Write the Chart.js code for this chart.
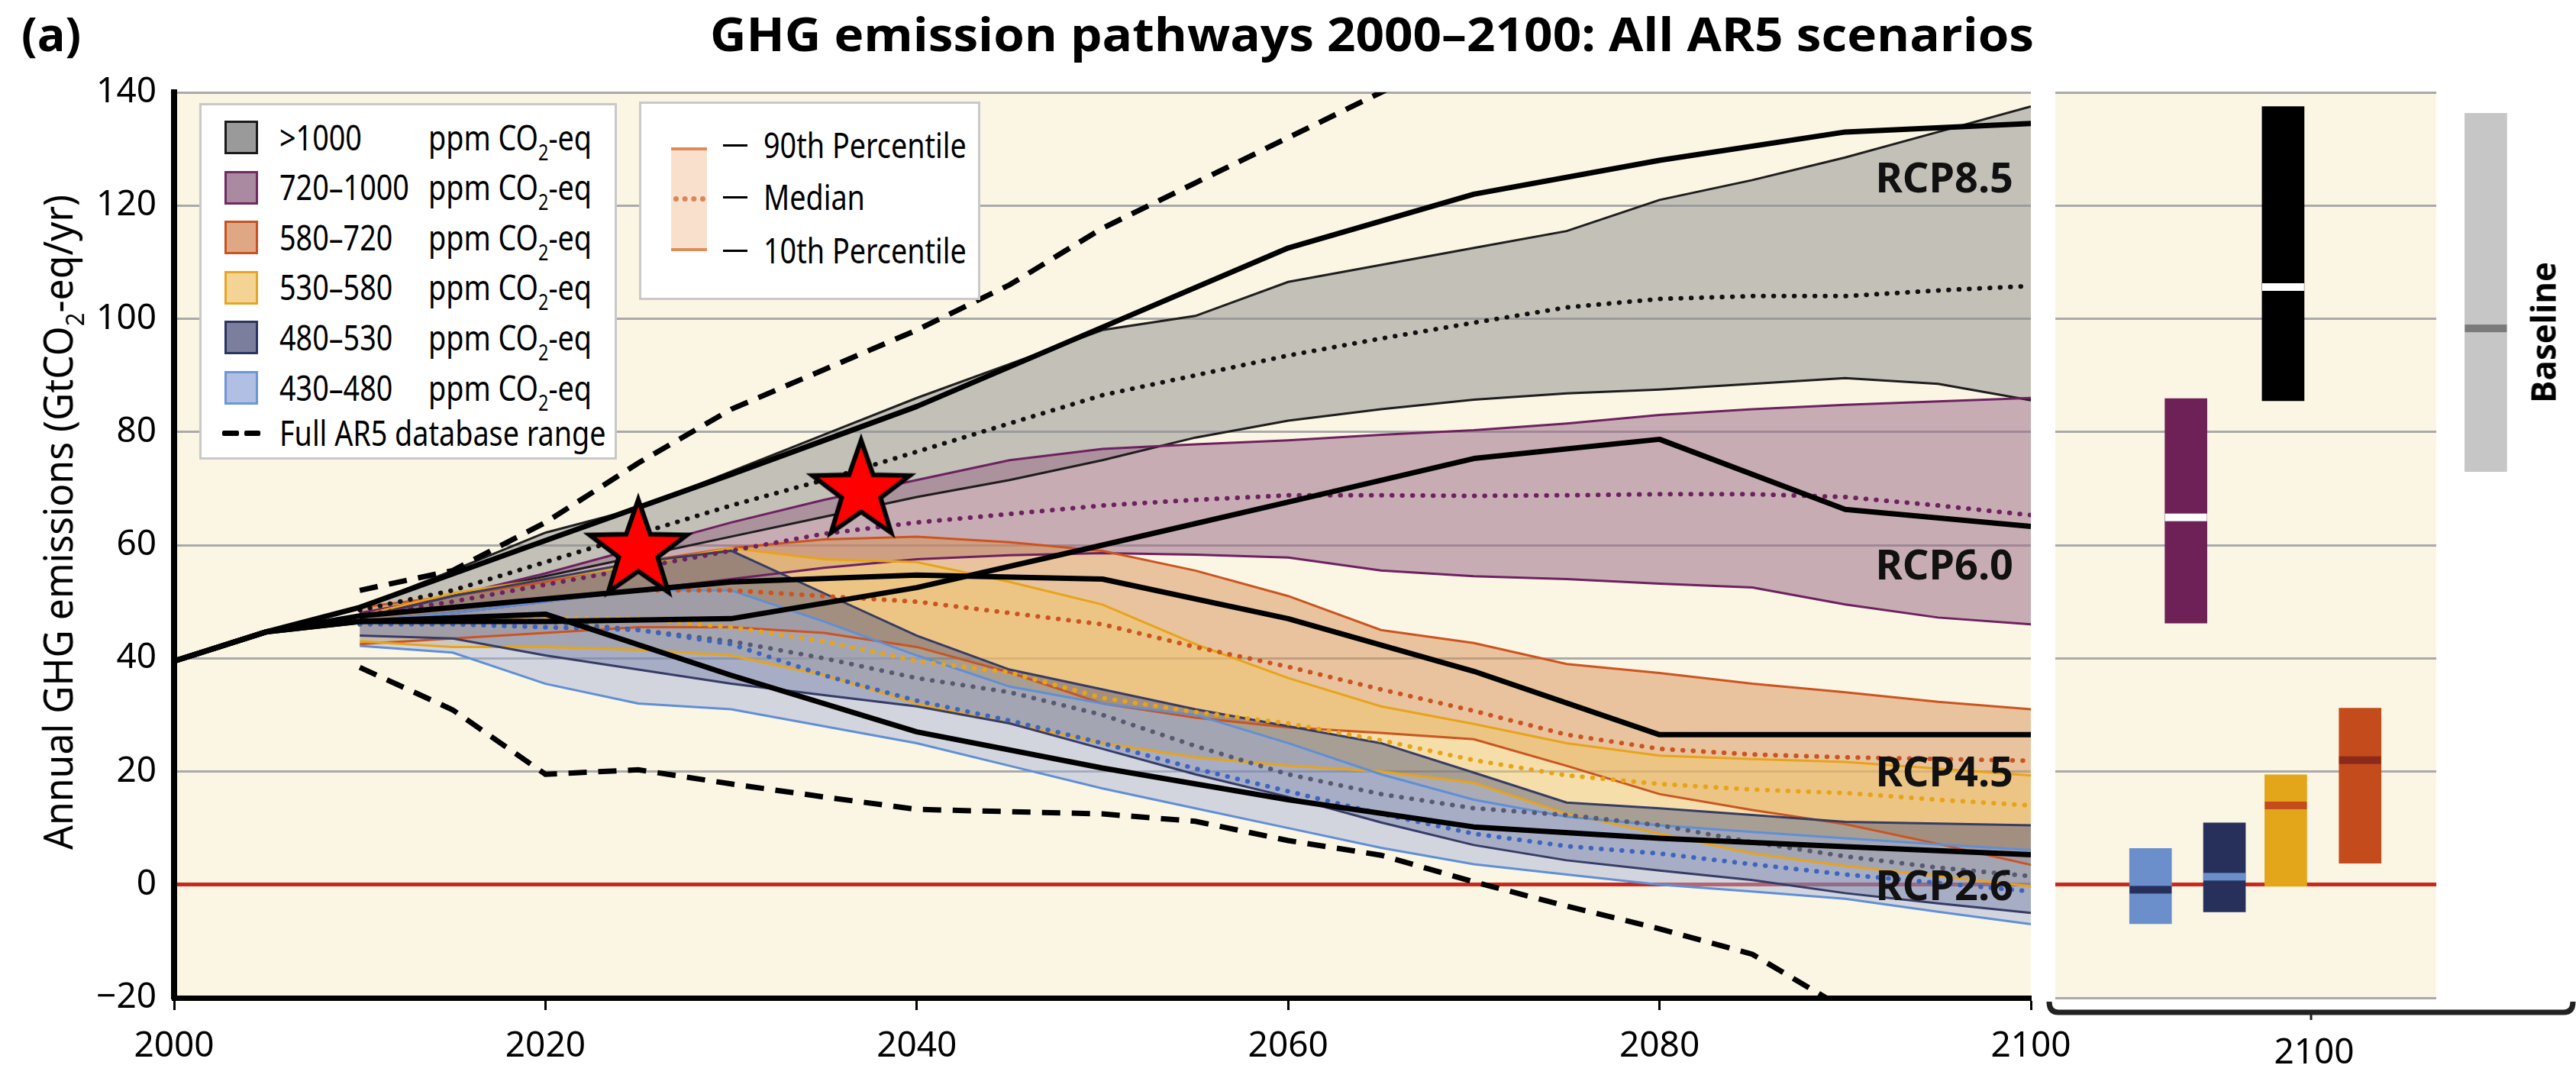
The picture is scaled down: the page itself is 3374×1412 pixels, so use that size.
<!DOCTYPE html>
<html lang="en">
<head>
<meta charset="utf-8">
<title>GHG emission pathways 2000–2100</title>
<script src="https://cdn.jsdelivr.net/npm/chart.js@4.4.1/dist/chart.umd.min.js"></script>
<style>
  html, body { margin: 0; padding: 0; background: #fff; }
  #fig { position: relative; width: 3374px; height: 1412px; overflow: hidden; font-family: "Noto Sans", "Open Sans", sans-serif; color: #000; }
  #fig canvas { position: absolute; top: 0; }
  .t { position: absolute; white-space: nowrap; line-height: 1; }
  .cond { transform-origin: 0 50%; transform: scaleX(0.82); }
  .box { position: absolute; box-sizing: border-box; background: #fff; border: 3px solid #c9c9c9; }
  .sw { position: absolute; box-sizing: border-box; width: 44px; height: 44px; border: 3px solid; }
  sub { font-size: 0.62em; vertical-align: -0.45em; line-height: 0; }
</style>
</head>
<body>
<div id="fig">
  <canvas id="main" width="2760" height="1412" style="left:0"></canvas>
  <canvas id="side" width="694" height="1412" style="left:2680px"></canvas>
  <div class="t" id="tag" style="left:28px;top:13px;font-size:61px;font-weight:700;font-family:'Open Sans';">(a)</div>
  <div class="t" id="title" style="left:930px;top:13px;font-size:61px;font-weight:700;font-family:'Open Sans';transform-origin:0 50%;">GHG emission pathways 2000–2100: All AR5 scenarios</div>
  <div class="t" id="ylab" style="font-size:52px;">Annual GHG emissions (GtCO<sub>2</sub>-eq/yr)</div>
  <div class="t" id="base" style="font-size:45px;font-weight:700;font-family:'Open Sans';">Baseline</div>
  <div id="legend"></div>
</div>
<script>
// ---- data ----
const years = [2010, 2015, 2020, 2025, 2030, 2035, 2040, 2045, 2050, 2055, 2060, 2065, 2070, 2075, 2080, 2085, 2090, 2095, 2100];

// >1000 ppm
const grHi  = [49, 55.5, 62.2, 66.5, 73, 79.5, 86, 92, 98, 100.5, 106.5, 109.5, 112.5, 115.5, 121, 124.5, 128.5, 133, 137.5];
const grLo  = [47.5, 51, 54.5, 58, 61.5, 65, 68.5, 71.5, 75, 79, 82, 84, 85.7, 86.8, 87.5, 88.5, 89.5, 88.5, 85.6];
const grMed = [48.5, 52, 57, 62, 67, 71.5, 76.5, 81.5, 86.5, 90, 93.5, 96.5, 99.3, 102, 103.5, 104, 104, 105, 105.8];
// 720-1000 ppm
const puHi  = [48, 51, 55, 59.5, 64, 68, 71.5, 75, 77, 77.8, 78.5, 79.5, 80.3, 81.5, 83, 84, 84.8, 85.4, 86];
const puLo  = [46.5, 48, 50, 52, 54, 56, 57.5, 58.2, 58.6, 58.3, 57.8, 55.5, 54.5, 54, 53.2, 52.5, 49.5, 47.2, 46];
const puMed = [47.5, 50, 53, 56, 59, 62, 64, 65.5, 67, 68, 68.8, 68.8, 68.7, 68.8, 69, 69, 68.5, 67, 65.3];
// 580-720 ppm
const orHi  = [49, 51, 53.5, 57, 59.5, 61, 61.5, 60.5, 59, 55.5, 51, 45, 42.7, 39, 37.4, 35.5, 34, 32.3, 31];
const orLo  = [42.5, 43.5, 44.5, 45.5, 45.5, 44.5, 42, 37.5, 32, 29.5, 27.8, 26.8, 25.7, 21, 16, 13.2, 10.7, 7.2, 3.5];
const orMed = [47.5, 49, 50.5, 52, 52, 51, 50, 48, 46, 42, 38.5, 34.5, 30.7, 26.5, 24, 23, 22.5, 22.2, 21.9];
// 530-580 ppm
const yeHi  = [47.5, 51.5, 54, 56.5, 59.5, 57.5, 57, 53.5, 49.5, 42.5, 36.5, 31.5, 28.4, 25, 22.8, 22.2, 21.7, 20.5, 19.3];
const yeLo  = [43, 42, 42, 41.5, 40.5, 37, 32, 28.5, 25, 22.5, 21, 20, 18, 12.5, 9, 5.5, 3.3, 1.5, -0.3];
const yeMed = [46, 46.5, 47, 47, 45.5, 43, 39.5, 37.5, 33, 30.5, 28.5, 25.5, 22, 19.3, 17.8, 16.8, 16.2, 15, 14];
// 480-530 ppm
const naHi  = [47, 51, 54, 57, 59, 51.5, 44, 38, 34.5, 31, 28, 25, 19.8, 14.5, 13.5, 12.3, 11.1, 10.8, 10.5];
const naLo  = [44, 43.5, 40.5, 38, 35.5, 33.5, 31.5, 28.5, 24, 19.5, 15.5, 11, 7, 4.3, 2.5, 0.8, -1.5, -3.3, -5];
const naMed = [46.5, 46.5, 46.5, 45, 43, 40, 36.5, 34, 30, 24.5, 19.5, 16, 13.5, 12.3, 10.5, 7.5, 5, 3, 1.5];
// 430-480 ppm
const lbHi  = [46.5, 48, 50, 52, 52, 46.5, 40.5, 35, 32, 30, 25, 19.5, 15, 12, 10.5, 9.3, 8.2, 7.1, 6.1];
const lbLo  = [42.2, 41, 35.5, 32, 31, 28, 25, 21, 17, 13.5, 10, 6.5, 3.6, 1.8, 0, -1.2, -2.5, -4.8, -7];
const lbMed = [46, 46, 45.5, 45, 42.5, 37, 32.5, 29, 25, 20.5, 16.5, 12.5, 9, 6.8, 5.5, 3.6, 1.8, 0.3, -1.2];

// full AR5 database range
const dbHi = [52, 55.5, 64, 74.5, 84, 91, 98, 106, 116, 124, 132, 140, 148, null, null, null, null, null, null];
const dbLo = [38.4, 30.9, 19.5, 20.3, 17.8, 15.5, 13.3, 12.9, 12.5, 11.2, 7.8, 5.2, 0.5, -3.8, -7.8, -12.3, -22, null, null];

// RCP pathways (incl. history 2000-2010)
const rcpYears = [2000, 2005, 2010, 2020, 2030, 2040, 2050, 2060, 2070, 2080, 2090, 2100];
const rcp85 = [39.5, 44.7, 49, 60.8, 72.5, 84.5, 98.5, 112.5, 122, 128, 133, 134.5];
const rcp60 = [39.5, 44.7, 46.5, 46.5, 47, 52.5, 60, 67.6, 75.3, 78.7, 66.3, 63.3];
const rcp45 = [39.5, 44.7, 47.5, 50.5, 53.5, 54.7, 54, 47, 37.7, 26.5, 26.5, 26.5];
const rcp26 = [39.5, 44.7, 46.5, 47.8, 37, 27, 20.6, 15, 10.2, 8.2, 6.7, 5.3];
const rcpNames = ['RCP8.5', 'RCP6.0', 'RCP4.5', 'RCP2.6'];
const rcpLabelAt = [124.4, 56, 19.4, -0.7];

const starYears = [2025, 2037];
const starValues = [59, 69.5];

// 2100 ranges (right panel)
const categories = ['>1000', '720–1000', '580–720', '530–580', '480–530', '430–480'];
const rangeNames = ['430–480', '480–530', '530–580', '580–720', '720–1000', '>1000', 'Baseline'];
const rangeLow  = [-6.9, -4.8, -0.3, 3.8, 46.2, 85.5, 73];
const rangeHigh = [6.4, 10.9, 19.4, 31.2, 85.9, 137.5, 136.3];
const rangeMid  = [-0.9, 1.4, 14, 22, 64.9, 105.6, 98.3];

// ---- styles / layout ----
const FONT = '"Noto Sans", "Open Sans", sans-serif';
const BEIGE = '#fbf5e4';
const slotX = [2.5, 4.44, 6.05, 8.0, 3.43, 5.98, 11.3];
const rangeColors = ['#6a8fca', '#27305a', '#e3a61a', '#c44b1c', '#6e2156', '#000000', '#c6c6c6'];
const midColors   = ['#27305a', '#6a8fca', '#c44b1c', '#8b2a1a', '#ffffff', '#ffffff', '#7a7a7a'];
const swatchFill   = ['#9a9a9a', '#a98aa0', '#e0a785', '#f3d494', '#7b7e9c', '#b1bfe4'];
const swatchBorder = ['#1a1a1a', '#6e2a62', '#c65321', '#e5a628', '#2c3560', '#6c97d4'];

const bands = [
  { hi: lbHi, lo: lbLo, med: lbMed, line: '#5f8fd6', fill: 'rgba(160,175,215,0.45)', dot: '#3d65c0' },
  { hi: naHi, lo: naLo, med: naMed, line: '#363c66', fill: 'rgba(60,70,120,0.42)', dot: '#585a72' },
  { hi: yeHi, lo: yeLo, med: yeMed, line: '#e8a418', fill: 'rgba(240,200,110,0.5)', dot: '#e8a418' },
  { hi: orHi, lo: orLo, med: orMed, line: '#cc5420', fill: 'rgba(214,145,85,0.5)', dot: '#cc5420' },
  { hi: puHi, lo: puLo, med: puMed, line: '#6e2160', fill: 'rgba(150,100,130,0.5)', dot: '#6e2160' },
  { hi: grHi, lo: grLo, med: grMed, line: '#1e1e1e', fill: 'rgba(140,140,140,0.5)', dot: '#111111' }
];

function series(xs, ys) { return xs.map((x, i) => ({ x: x, y: ys[i] })); }

function makeStar(r) {
  const c = document.createElement('canvas');
  const s = Math.ceil(2 * r + 30);
  c.width = s; c.height = s;
  const g = c.getContext('2d');
  g.translate(s / 2, s / 2);
  g.beginPath();
  for (let i = 0; i < 10; i++) {
    const rad = i % 2 ? r * 0.4 : r;
    const a = -Math.PI / 2 + i * Math.PI / 5;
    g.lineTo(Math.cos(a) * rad, Math.sin(a) * rad);
  }
  g.closePath();
  g.fillStyle = '#ff0000';
  g.fill();
  g.lineWidth = 6;
  g.strokeStyle = '#000';
  g.stroke();
  return c;
}

// ---- datasets ----
const datasets = [];
bands.forEach(b => {
  datasets.push({ data: series(years, b.hi), borderColor: b.line, borderWidth: 3, backgroundColor: b.fill, fill: '+1', order: 5 });
  datasets.push({ data: series(years, b.lo), borderColor: b.line, borderWidth: 3, fill: false, order: 5 });
});
bands.forEach(b => {
  datasets.push({ data: series(years, b.med), borderColor: b.dot, borderWidth: 6, borderDash: [0.5, 13], borderCapStyle: 'round', fill: false, order: 4 });
});
[dbHi, dbLo].forEach(d => {
  datasets.push({ data: series(years, d), borderColor: '#000', borderWidth: 7, borderDash: [24, 15], fill: false, order: 3 });
});
[rcp85, rcp60, rcp45, rcp26].forEach(r => {
  datasets.push({ data: series(rcpYears, r), borderColor: '#000', borderWidth: 7, fill: false, order: 2, borderJoinStyle: 'round' });
});
datasets.push({ type: 'scatter', data: series(starYears, starValues), pointStyle: makeStar(67), pointRadius: 10, order: 0 });

const bgPlugin = {
  id: 'bg',
  beforeDraw(chart) {
    const { ctx, chartArea: a } = chart;
    ctx.save();
    ctx.fillStyle = BEIGE;
    ctx.fillRect(a.left, a.top, a.right - a.left, a.bottom - a.top);
    ctx.restore();
  }
};

const rcpLabelPlugin = {
  id: 'rcpLabels',
  afterDatasetsDraw(chart) {
    const { ctx, chartArea, scales } = chart;
    ctx.save();
    ctx.font = 'bold 54px ' + FONT;
    ctx.fillStyle = '#111';
    ctx.textAlign = 'right';
    ctx.textBaseline = 'middle';
    rcpNames.forEach((n, i) => ctx.fillText(n, chartArea.right - 23, scales.y.getPixelForValue(rcpLabelAt[i])));
    ctx.restore();
  }
};

const gridColor = c => (c.tick && c.tick.value === 0 ? '#c8281e' : '#aaaaaa');
const gridWidth = c => (c.tick && c.tick.value === 0 ? 5 : 3);

new Chart(document.getElementById('main'), {
  type: 'line',
  data: { datasets: datasets },
  options: {
    responsive: false,
    animation: false,
    layout: { padding: { top: 121, right: 100, left: 0, bottom: 0 } },
    elements: { point: { radius: 0 }, line: { tension: 0 } },
    plugins: {
      legend: { display: false },
      tooltip: { enabled: false },
      filler: { drawTime: 'beforeDatasetsDraw' }
    },
    scales: {
      x: {
        type: 'linear', min: 2000, max: 2100,
        afterFit: s => { s.height = 105; s.paddingLeft = 0; s.paddingRight = 0; },
        ticks: { stepSize: 20, callback: v => String(v), font: { family: FONT, size: 46 }, color: '#000', padding: 20, maxRotation: 0 },
        grid: { drawOnChartArea: false, drawTicks: true, tickLength: 16, tickWidth: 3, tickColor: '#000' },
        border: { color: '#000', width: 7 }
      },
      y: {
        min: -20, max: 140,
        afterFit: s => { s.width = 228; s.paddingTop = 0; s.paddingBottom = 0; },
        ticks: { stepSize: 20, callback: v => (v < 0 ? '\u2212' + Math.abs(v) : String(v)), font: { family: FONT, size: 46 }, color: '#000', padding: 23 },
        grid: { color: gridColor, lineWidth: gridWidth, drawTicks: false },
        border: { color: '#000', width: 8 }
      }
    }
  },
  plugins: [bgPlugin, rcpLabelPlugin]
});

// ---- right panel: 2100 ranges ----
const medianPlugin = {
  id: 'medians',
  afterDatasetsDraw(chart) {
    const { ctx, scales } = chart;
    const meta = chart.getDatasetMeta(0);
    ctx.save();
    meta.data.forEach((bar, i) => {
      const y = scales.y.getPixelForValue(rangeMid[i]);
      ctx.fillStyle = midColors[i];
      ctx.fillRect(bar.x - bar.width / 2, y - 5, bar.width, 10);
    });
    ctx.restore();
  }
};

const bracketPlugin = {
  id: 'bracket',
  afterDraw(chart) {
    const { ctx, chartArea: a, width } = chart;
    const y = a.bottom + 19;
    const l = a.left - 8, r = width - 4, mid = (l + r) / 2;
    ctx.save();
    ctx.strokeStyle = '#222';
    ctx.lineWidth = 7;
    ctx.beginPath();
    ctx.moveTo(l, y - 14);
    ctx.quadraticCurveTo(l, y, l + 12, y);
    ctx.lineTo(r - 12, y);
    ctx.quadraticCurveTo(r, y, r, y - 14);
    ctx.stroke();
    ctx.lineWidth = 3;
    ctx.beginPath();
    ctx.moveTo(mid, y);
    ctx.lineTo(mid, y + 10);
    ctx.stroke();
    ctx.fillStyle = '#000';
    ctx.font = '46px ' + FONT;
    ctx.textAlign = 'center';
    ctx.textBaseline = 'middle';
    ctx.fillText('2100', mid + 4, y + 54);
    ctx.restore();
  }
};

new Chart(document.getElementById('side'), {
  type: 'bar',
  data: {
    labels: rangeNames,
    datasets: [{
      data: rangeNames.map((n, i) => ({ x: slotX[i], y: [rangeLow[i], rangeHigh[i]] })),
      backgroundColor: rangeColors,
      borderWidth: 0,
      barThickness: 55,
      clip: false
    }]
  },
  options: {
    responsive: false,
    animation: false,
    layout: { padding: { top: 121, left: 12, right: 183, bottom: 105 } },
    plugins: { legend: { display: false }, tooltip: { enabled: false } },
    scales: {
      x: { type: 'linear', min: 0, max: 10, display: false, offset: false },
      y: {
        min: -20, max: 140,
        afterFit: s => { s.width = 0; },
        ticks: { display: false, stepSize: 20 },
        grid: { color: gridColor, lineWidth: gridWidth, drawTicks: false },
        border: { display: false }
      }
    }
  },
  plugins: [bgPlugin, medianPlugin, bracketPlugin]
});

// ---- text: title, axis label, legends ----
function natW(el) { return el.getBoundingClientRect().width; }

const title = document.getElementById('title');
title.style.transform = 'scaleX(' + (1734 / natW(title)) + ')';

function rotated(el, cx, cy, len, fs) {
  const w = natW(el);
  el.style.left = (cx - w / 2) + 'px';
  el.style.top = (cy - fs / 2) + 'px';
  el.style.transformOrigin = '50% 50%';
  el.style.transform = 'rotate(-90deg) scaleX(' + (len / w) + ')';
}
rotated(document.getElementById('ylab'), 75, 684, 858, 52);
rotated(document.getElementById('base'), 3330, 435, 185, 45);

const legendEl = document.getElementById('legend');
function add(html, css, cls) {
  const d = document.createElement('div');
  d.className = cls || 't';
  d.innerHTML = html;
  Object.assign(d.style, css);
  legendEl.appendChild(d);
  return d;
}
const FS = 46;
add('', { left: '261px', top: '135px', width: '547px', height: '467px' }, 'box');
categories.forEach((c, i) => {
  const y = 180 + i * 65.6;
  add('', { left: '294px', top: (y - 22) + 'px', background: swatchFill[i], borderColor: swatchBorder[i] }, 'sw');
  add(c, { left: '366px', top: (y - 0.53 * FS) + 'px', fontSize: FS + 'px' }, 't cond');
  add('ppm CO<sub>2</sub>-eq', { left: '561px', top: (y - 0.53 * FS) + 'px', fontSize: FS + 'px' }, 't cond');
});
const yDb = 567;
add('', { left: '291px', top: (yDb - 3.5) + 'px', width: '22px', height: '7px', background: '#000', borderRadius: '2px' }, 't');
add('', { left: '320px', top: (yDb - 3.5) + 'px', width: '21px', height: '7px', background: '#000', borderRadius: '2px' }, 't');
add('Full AR5 database range', { left: '366px', top: (yDb - 0.53 * FS) + 'px', fontSize: FS + 'px' }, 't cond');

add('', { left: '837px', top: '133px', width: '447px', height: '260px' }, 'box');
add('', { left: '879px', top: '193px', width: '47px', height: '136px', background: '#f8e0cc', boxSizing: 'border-box',
          borderTop: '4px solid #de8c57', borderBottom: '4px solid #de8c57' }, 't');
add('', { left: '882px', top: '257px', width: '42px', height: '0px', borderTop: '7px dotted #d9875a' }, 't');
['90th Percentile', 'Median', '10th Percentile'].forEach((s, i) => {
  const y = [190, 258, 328][i];
  add('', { left: '947px', top: (y - 1.5) + 'px', width: '32px', height: '3px', background: '#000' }, 't');
  add(s, { left: '1000px', top: (y - 0.53 * FS) + 'px', fontSize: FS + 'px' }, 't cond');
});
</script>
</body>
</html>
